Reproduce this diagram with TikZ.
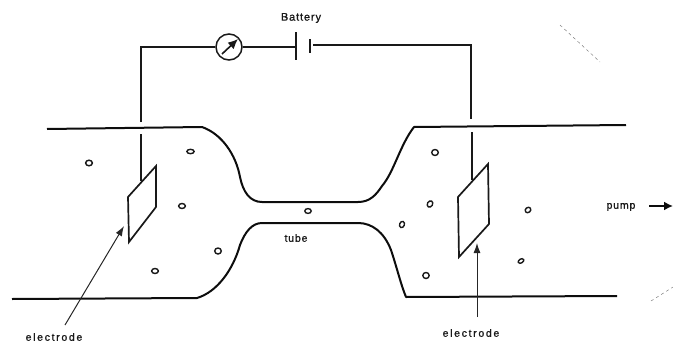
\documentclass[tikz,border=0pt]{standalone}
\usepackage{fontspec}
\setmainfont{Liberation Sans}
\newfontfamily\lblfont[LetterSpace=8,FakeBold=1.2]{Liberation Sans}
\newfontfamily\wideblfont[LetterSpace=16,FakeBold=1.2]{Liberation Sans}
\usetikzlibrary{arrows.meta}
\tikzset{
  tubeline/.style={line width=2pt,black!95,line join=round},
  wire/.style={line width=1.3pt,black!90},
  plate/.style={line width=1.7pt,black!90,line join=miter},
  ptr/.style={line width=1pt,black!85,-{Latex[length=10pt,width=7pt]}},
  lbl/.style={font=\lblfont\fontsize{10.5}{12}\selectfont,inner sep=0pt,text=black!90},
  widelbl/.style={lbl,font=\wideblfont\fontsize{10.5}{12}\selectfont},
  particle/.style={line width=1.4pt,black!90},
  meter/.style={circle,draw,line width=1.5pt,black!90,fill=white,minimum size=26pt,inner sep=0pt},
  speck/.style={line width=.5pt,black!50,dashed}
}
\begin{document}
\begin{tikzpicture}[x=1pt,y=-1pt]
\useasboundingbox (0,0) rectangle (673,343);
% tube
\draw[tubeline] (47,129) -- (202,127) .. controls (222,134) and (236,155) .. (240,177)
  .. controls (243,192) and (250,202) .. (262,202) -- (358,202)
  .. controls (370,202) and (376,195) .. (382,186)
  .. controls (394,172) and (400,145) .. (414,127) -- (626,125);
\draw[tubeline] (12,299) -- (197,298) .. controls (217,292) and (233,270) .. (240,245)
  .. controls (245,232) and (252,223) .. (262,223) -- (358,223)
  .. controls (372,223) and (384,232) .. (391,250)
  .. controls (397,268) and (401,285) .. (406,297) -- (617,296);
% circuit
\coordinate (lbot) at (141,122);
\coordinate (ltop) at (141,47);
\coordinate (rtop) at (471,45);
\coordinate (rbot) at (471,119);
\node[meter] (meter) at (229,47) {};
\coordinate (p1t) at (296,32); \coordinate (p1b) at (296,60);
\coordinate (p1m) at (296,47);
\coordinate (p2t) at (310,39); \coordinate (p2b) at (310,53);
\coordinate (p2m) at (310,45);
\draw[wire] (lbot) -- (ltop) -- (meter);
\draw[wire] (meter) -- (p1m);
\draw[plate] (p1t) -- (p1b);
\draw[plate] (p2t) -- (p2b);
\draw[wire] (p2m) ++(3,0) -- (rtop) -- (rbot);
\coordinate (na) at (222,54); \coordinate (nb) at (238,39);
\draw[line width=1.6pt,black!90,-{Latex[length=10pt,width=9pt]}] (na) -- (nb);
\node[lbl,font=\lblfont\fontsize{11}{12}\selectfont] (battery) at (301,18) {Battery};
% electrodes
\coordinate (lw) at (141,134); \coordinate (lw2) at (141,181);
\coordinate (rw) at (472,132); \coordinate (rw2) at (472,180);
\draw[wire] (lw) -- (lw2);
\draw[wire] (rw) -- (rw2);
\draw[plate] (156,166) -- (128,197) -- (129,242) -- (156,207) -- cycle;
\draw[plate] (488,164) -- (458,197) -- (459,257) -- (489,224) -- cycle;
% labels and pointers
\node[widelbl] (elL) at (54,337) {electrode};
\node[widelbl] (elR) at (471,333) {electrode};
\node[lbl] (tube) at (296,238) {tube};
\node[lbl] (pump) at (621,207) {pump};
\coordinate (elLs) at (65,325); \coordinate (elLe) at (124,226);
\coordinate (elRs) at (477,317); \coordinate (elRe) at (477,243);
\draw[ptr] (elLs) -- (elLe);
\draw[ptr] (elRs) -- (elRe);
\coordinate (ps) at (649,206); \coordinate (pe) at (673,206);
\draw[line width=1.7pt,black!95,-{Latex[length=9pt,width=9pt]}] (ps) -- (pe);
% particles
\foreach \x/\y/\a/\b/\r in {89/163/3.4/2.8/0,190.5/151.5/3.6/2.2/0,182/206/3.4/2.5/0,218/251/3.3/3/0,155/271/3.4/2.5/0,308/211/3.2/2.4/0,435/152.5/3.3/3/0,430/204/3.3/2.6/60,402/224.5/3.2/2.4/70,426/275.5/3.2/3/0,528/210/3/2.5/40,521/261/3/2/30}
  \draw[particle,rotate around={\r:(\x,\y)}] (\x,\y) ellipse [x radius=\a,y radius=\b];
% specks
\draw[speck] (560,25) -- (600,62);
\draw[speck] (651,301) -- (673,287);
\end{tikzpicture}
\end{document}
